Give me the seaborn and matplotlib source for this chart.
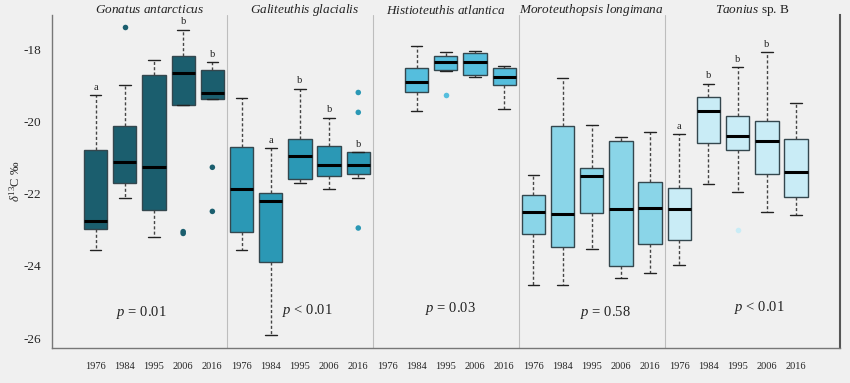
import numpy as np
import pandas as pd
import matplotlib
matplotlib.use("Agg")
import matplotlib.pyplot as plt
import seaborn as sns

# species and years
species = ["Gonatus antarcticus", "Galiteuthis glacialis", "Histioteuthis atlantica",
           "Moroteuthopsis longimana", "Taonius sp. B"]
years = ["1976", "1984", "1995", "2006", "2016"]
p_text = ["= 0.01", "< 0.01", "= 0.03", "= 0.58", "< 0.01"]
colors = ["#1B5E6E", "#2B98B5", "#55BEDD", "#8AD5E8", "#C9ECF6"]

# five-number summaries per box (species-major, year-minor); None = no data
whisk_lo = [-23.57, -22.13, -23.20, -19.54, -19.38,
            -23.56, -25.92, -21.71, -21.88, -21.57,
            None, -19.71, -18.60, -18.77, -19.66,
            -24.52, -24.54, -23.54, -24.34, -24.20,
            -23.96, -21.73, -21.96, -22.50, -22.58]
q1 = [-22.98, -21.71, -22.46, -19.54, -19.38,
      -23.07, -23.90, -21.59, -21.50, -21.45,
      None, -19.18, -18.57, -18.73, -19.00,
      -23.11, -23.47, -22.53, -23.99, -23.38,
      -23.28, -20.60, -20.80, -21.45, -22.10]
median = [-22.76, -21.11, -21.27, -18.66, -19.22,
          -21.88, -22.20, -20.95, -21.20, -21.22,
          None, -18.91, -18.37, -18.37, -18.77,
          -22.51, -22.56, -21.50, -22.42, -22.40,
          -22.42, -19.70, -20.40, -20.53, -21.39]
q3 = [-20.80, -20.14, -18.73, -18.19, -18.59,
      -20.71, -21.99, -20.49, -20.69, -20.85,
      None, -18.53, -18.20, -18.11, -18.52,
      -22.03, -20.12, -21.30, -20.53, -21.68,
      -21.85, -19.33, -19.84, -19.98, -20.49]
whisk_hi = [-19.28, -18.99, -18.30, -17.47, -18.37,
            -19.36, -20.74, -19.10, -19.90, -20.85,
            None, -17.91, -18.08, -18.06, -18.48,
            -21.48, -18.80, -20.10, -20.42, -20.28,
            -20.36, -18.96, -18.50, -18.09, -19.48]

# outliers: (box index, value)
outlier_box = [1, 3, 3, 4, 4, 9, 9, 9, 12, 22]
outlier_val = [-17.40, -23.05, -23.10, -21.27, -22.49, -19.20, -19.75, -22.95, -19.28, -23.01]

# significance letters: (box index, letter)
letter_box = [0, 3, 4, 6, 7, 8, 9, 20, 21, 22, 23]
letter_txt = ["a", "b", "b", "a", "b", "b", "b", "a", "b", "b", "b"]

slots = [f"{s}|{y}" for s in species for y in years]

rows = []
for i, slot in enumerate(slots):
    if median[i] is None:
        continue
    # values chosen so quartiles land on the summary numbers
    for v in [whisk_lo[i], q1[i], q1[i], median[i], q3[i], q3[i], whisk_hi[i]]:
        rows.append({"slot": slot, "species": species[i // 5], "value": v})
df = pd.DataFrame(rows)
df_out = pd.DataFrame({"slot": [slots[i] for i in outlier_box],
                       "species": [species[i // 5] for i in outlier_box],
                       "value": outlier_val})

sns.set_style("white")
plt.rcParams["font.family"] = ["Liberation Serif", "DejaVu Serif"]
plt.rcParams["mathtext.fontset"] = "custom"
plt.rcParams["mathtext.rm"] = "Liberation Serif"
plt.rcParams["mathtext.it"] = "Liberation Serif:italic"

fig = plt.figure(figsize=(8.5, 3.83), dpi=100, facecolor="#F0F0F0")
ax = fig.add_axes([0.061, 0.0914, 0.927, 0.87])
ax.set_facecolor("#F0F0F0")
palette = dict(zip(species, colors))

sns.boxplot(data=df, x="slot", y="value", hue="species", order=slots, palette=palette,
            saturation=1, dodge=False, width=0.8, whis=(0, 100), legend=False, ax=ax,
            linewidth=1, linecolor="#34474E",
            whiskerprops=dict(linestyle=(0, (2.2, 1.6)), color="#444444", linewidth=1),
            capprops=dict(color="#222222", linewidth=1),
            medianprops=dict(color="black", linewidth=2.2))
sns.stripplot(data=df_out, x="slot", y="value", hue="species", order=slots, palette=palette,
              jitter=False, dodge=False, size=4, legend=False, ax=ax, zorder=5)

for i, t in zip(letter_box, letter_txt):
    ax.text(i, whisk_hi[i] + 0.1, t, ha="center", va="bottom", fontsize=7.5, color="#222222")

for k in range(1, 5):
    ax.axvline(k * 5 - 0.5, color="#BDBDBD", lw=0.8, zorder=0)

title_x = [1.85, 7.15, 12.0, 17.0, 22.5]
p_x = [1.55, 7.25, 12.15, 17.45, 22.75]
p_y = [-25.30, -25.22, -25.17, -25.28, -25.14]
for k, sp in enumerate(species):
    if sp.endswith("sp. B"):
        label = r"$\mathit{Taonius}$ sp. B"
    else:
        label = r"$\mathit{" + sp.replace(" ", r"\ ") + "}$"
    ax.text(title_x[k], -16.92, label, ha="center", va="center", fontsize=9.5,
            color="#222222", clip_on=False)
    ax.text(p_x[k], p_y[k], r"$p$ " + p_text[k], ha="center", va="center",
            fontsize=10.5, color="#222222")

ax.set_xlim(-1.5, 25.5)
ax.set_ylim(-26.27, -17.05)
ax.set_xticks(range(25))
ax.set_xticklabels(years * 5, fontsize=7.5)
ax.set_yticks([-18, -20, -22, -24, -26])
ax.set_yticklabels(["-18", "-20", "-22", "-24", "-26"], fontsize=9.5)
ax.set_xlabel("")
ax.set_ylabel(r"$\mathit{\delta}^{13}$C ‰", fontsize=9, labelpad=1)
ax.tick_params(axis="both", direction="out", length=4, color="#555555", width=0.8)
ax.tick_params(axis="x", pad=6)

for side in ["left", "bottom", "right"]:
    ax.spines[side].set_color("#777777")
    ax.spines[side].set_linewidth(1)
ax.spines["right"].set_color("#555555")
ax.spines["right"].set_linewidth(1.5)
ax.spines["top"].set_visible(False)

fig.savefig("out.png", dpi=100, facecolor=fig.get_facecolor())
